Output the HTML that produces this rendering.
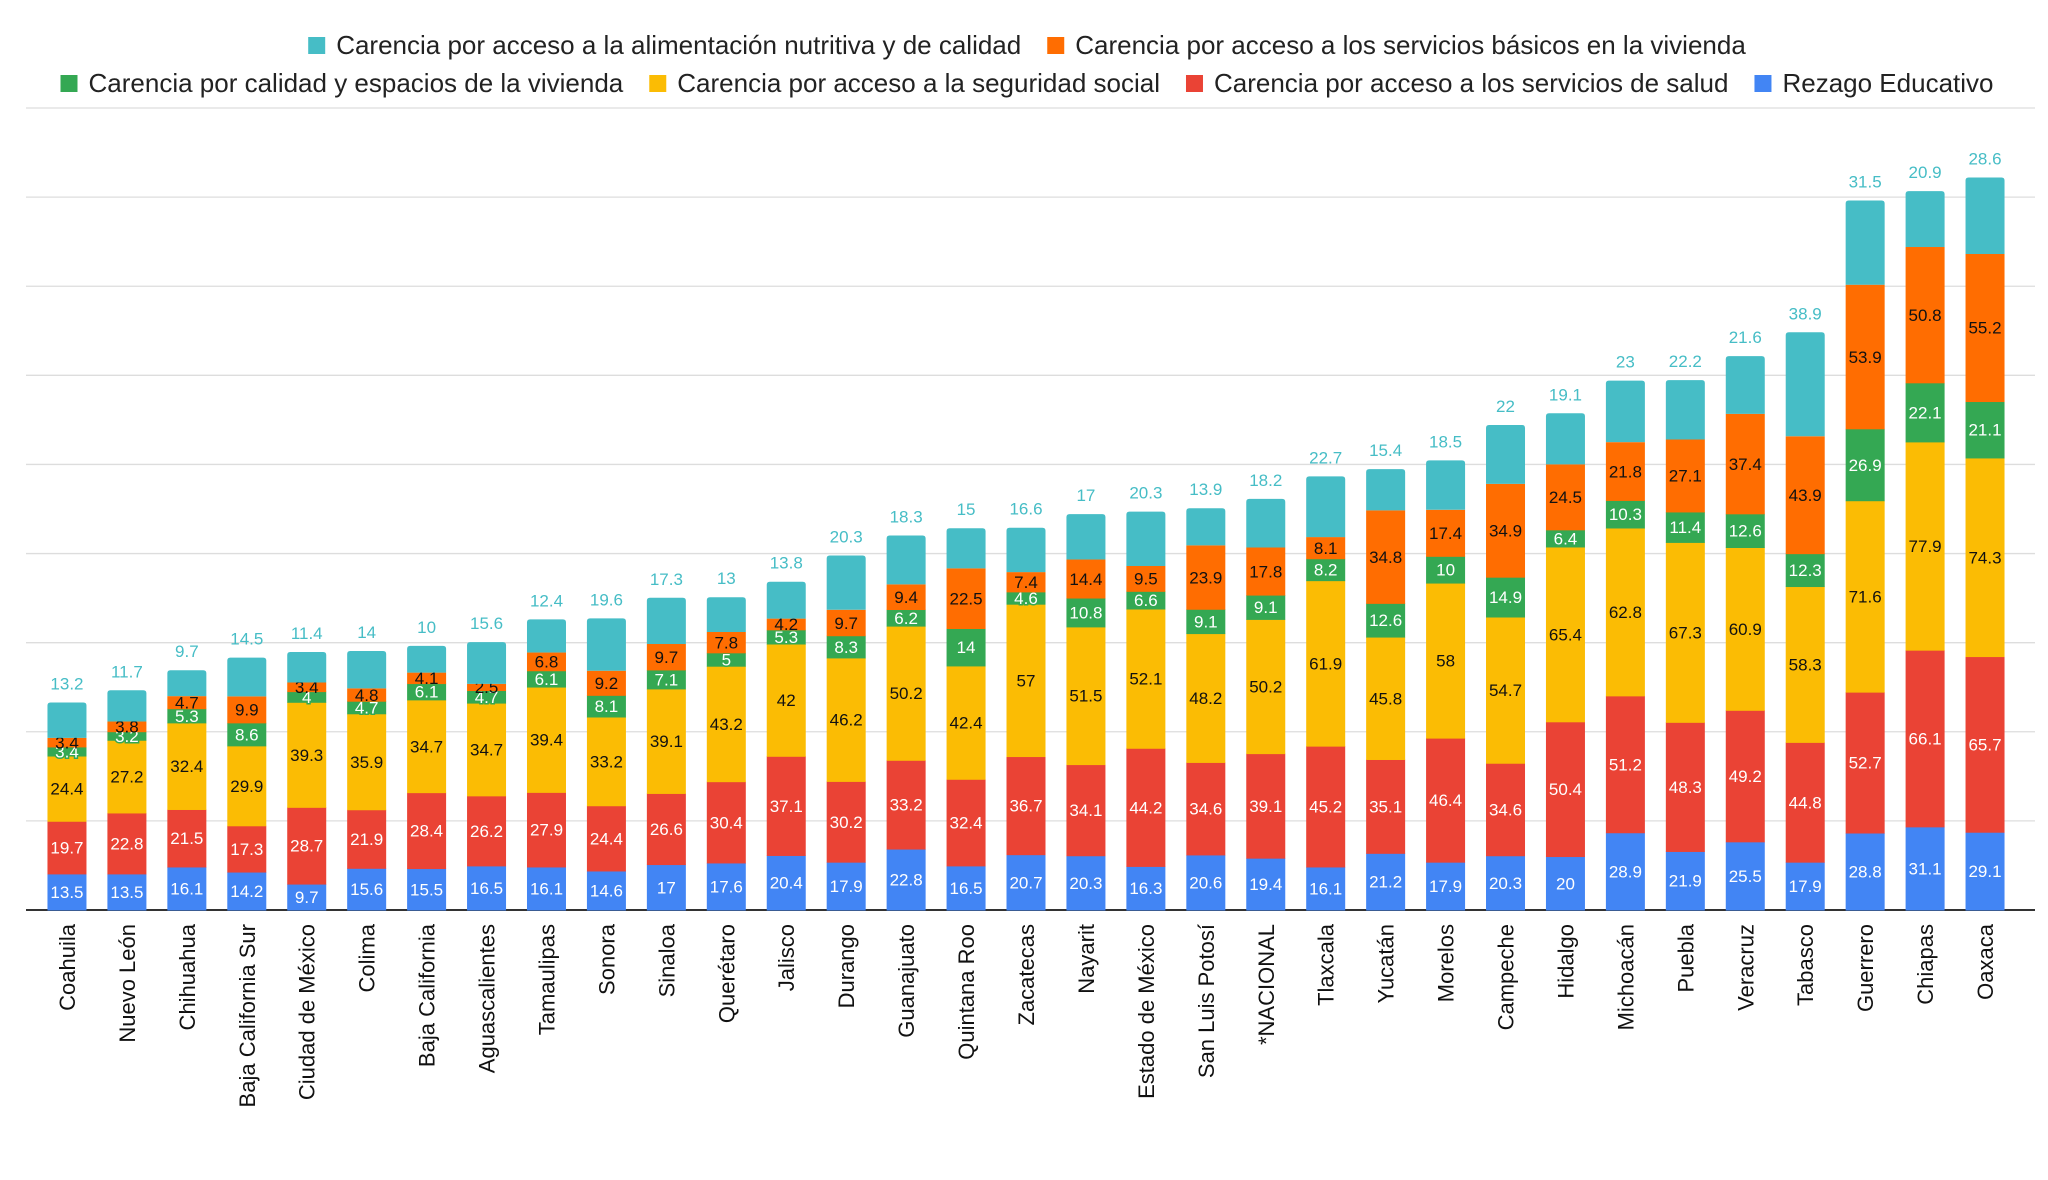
<!DOCTYPE html>
<html><head><meta charset="utf-8"><style>
html,body{margin:0;padding:0;background:#fff;}
svg{display:block;font-family:"Liberation Sans",sans-serif;}
</style></head><body>
<svg id="chart" width="2048" height="1180" viewBox="0 0 2048 1180"></svg>
<script>
const categories = ["Coahuila","Nuevo León","Chihuahua","Baja California Sur","Ciudad de México","Colima","Baja California","Aguascalientes","Tamaulipas","Sonora","Sinaloa","Querétaro","Jalisco","Durango","Guanajuato","Quintana Roo","Zacatecas","Nayarit","Estado de México","San Luis Potosí","*NACIONAL","Tlaxcala","Yucatán","Morelos","Campeche","Hidalgo","Michoacán","Puebla","Veracruz","Tabasco","Guerrero","Chiapas","Oaxaca"];
const rezago = [13.5,13.5,16.1,14.2,9.7,15.6,15.5,16.5,16.1,14.6,17,17.6,20.4,17.9,22.8,16.5,20.7,20.3,16.3,20.6,19.4,16.1,21.2,17.9,20.3,20,28.9,21.9,25.5,17.9,28.8,31.1,29.1];
const salud = [19.7,22.8,21.5,17.3,28.7,21.9,28.4,26.2,27.9,24.4,26.6,30.4,37.1,30.2,33.2,32.4,36.7,34.1,44.2,34.6,39.1,45.2,35.1,46.4,34.6,50.4,51.2,48.3,49.2,44.8,52.7,66.1,65.7];
const seguridad = [24.4,27.2,32.4,29.9,39.3,35.9,34.7,34.7,39.4,33.2,39.1,43.2,42,46.2,50.2,42.4,57,51.5,52.1,48.2,50.2,61.9,45.8,58,54.7,65.4,62.8,67.3,60.9,58.3,71.6,77.9,74.3];
const calidad = [3.4,3.2,5.3,8.6,4,4.7,6.1,4.7,6.1,8.1,7.1,5,5.3,8.3,6.2,14,4.6,10.8,6.6,9.1,9.1,8.2,12.6,10,14.9,6.4,10.3,11.4,12.6,12.3,26.9,22.1,21.1];
const basicos = [3.4,3.8,4.7,9.9,3.4,4.8,4.1,2.5,6.8,9.2,9.7,7.8,4.2,9.7,9.4,22.5,7.4,14.4,9.5,23.9,17.8,8.1,34.8,17.4,34.9,24.5,21.8,27.1,37.4,43.9,53.9,50.8,55.2];
const alimentacion = [13.2,11.7,9.7,14.5,11.4,14,10,15.6,12.4,19.6,17.3,13,13.8,20.3,18.3,15,16.6,17,20.3,13.9,18.2,22.7,15.4,18.5,22,19.1,23,22.2,21.6,38.9,31.5,20.9,28.6];
const yMax = 300;
const gridCount = 9;

const svg = document.getElementById('chart');
const NS = 'http://www.w3.org/2000/svg';
const plotLeft = 26, plotRight = 2035, plotTop = 108, plotBottom = 910;
const bandStart = 37, bandEnd = 2015;
const band = (bandEnd - bandStart) / categories.length;
const barW = 39;
function y(v){ return plotBottom - v / yMax * (plotBottom - plotTop); }
function xc(i){ return bandStart + band * (i + 0.5); }
function mk(tag, attrs, parent){ const e = document.createElementNS(NS, tag); for (const k in attrs) e.setAttribute(k, attrs[k]); (parent||svg).appendChild(e); return e; }

const series = [
 {name:'rezago', label:'Rezago Educativo', data:rezago, color:'#4285F4', text:'#fff', halo:false},
 {name:'salud', label:'Carencia por acceso a los servicios de salud', data:salud, color:'#EA4335', text:'#fff', halo:false},
 {name:'seguridad', label:'Carencia por acceso a la seguridad social', data:seguridad, color:'#FBBC04', text:'#111', halo:false},
 {name:'calidad', label:'Carencia por calidad y espacios de la vivienda', data:calidad, color:'#34A853', text:'#fff', halo:true},
 {name:'basicos', label:'Carencia por acceso a los servicios básicos en la vivienda', data:basicos, color:'#FF6D01', text:'#111', halo:false},
 {name:'alimentacion', label:'Carencia por acceso a la alimentación nutritiva y de calidad', data:alimentacion, color:'#46BDC6', text:'#46BDC6', halo:false}
];

for (let g = 0; g <= gridCount; g++) {
  const v = yMax / gridCount * g;
  const gl = mk('line', {x1:plotLeft, x2:plotRight, y1:y(v), y2:y(v), stroke: g===0 ? '#333' : '#ddd', 'stroke-width': g===0 ? 2 : 1.3});
  
  
}

categories.forEach((c, i) => {
  let base = 0;
  const grp = mk('g', {});
  
  
  series.forEach((s, si) => {
    const v = s.data[i];
    const top = y(base + v), bot = y(base);
    const isTop = si === series.length - 1;
    let el;
    if (isTop) {
      const r = 3, x0 = xc(i) - barW/2, x1 = xc(i) + barW/2;
      el = mk('path', {d:`M${x0},${bot} L${x0},${top+r} Q${x0},${top} ${x0+r},${top} L${x1-r},${top} Q${x1},${top} ${x1},${top+r} L${x1},${bot} Z`, fill:s.color}, grp);
    } else {
      el = mk('rect', {x:xc(i)-barW/2, y:top, width:barW, height:bot-top+0.5, fill:s.color}, grp);
    }
    
    
    const ty = isTop ? top - 13 : (top + bot)/2 + 6;
    const t = mk('text', {x:xc(i), y:ty, 'text-anchor':'middle', 'font-size':17, fill:s.text}, grp);
    if (s.halo) { t.setAttribute('stroke', s.color); t.setAttribute('stroke-width', 3); t.setAttribute('paint-order', 'stroke'); }
    t.textContent = String(v);
    
    
    base += v;
  });
  const lbl = mk('text', {x:0, y:0, 'text-anchor':'end', 'font-size':22, fill:'#111', transform:`translate(${xc(i)+8},${plotBottom+14}) rotate(-90)`});
  lbl.textContent = c;
  
  
});

const legendRows = [
  {y:45, items:[5,4], cx:1027},
  {y:83, items:[3,2,1,0], cx:1027}
];
legendRows.forEach(row => {
  const g = mk('g', {});
  
  
  const items = [];
  let total = 0;
  row.items.forEach(si => {
    const ig = mk('g', {}, g);
    
    
    const sw = mk('rect', {x:0, y:row.y-8, width:17, height:17, fill:series[si].color}, ig);
    
    
    const t = mk('text', {x:0, y:row.y+9, 'font-size':26, fill:'#222'}, ig);
    t.textContent = series[si].label;
    
    
    const w = 28 + t.getComputedTextLength();
    items.push({sw, t, w});
    total += w;
  });
  const gap = 26;
  total += gap * (items.length - 1);
  let x = row.cx - total/2;
  items.forEach(it => {
    it.sw.setAttribute('x', x);
    it.t.setAttribute('x', x + 28);
    x += it.w + gap;
  });
});
</script>
</body></html>
